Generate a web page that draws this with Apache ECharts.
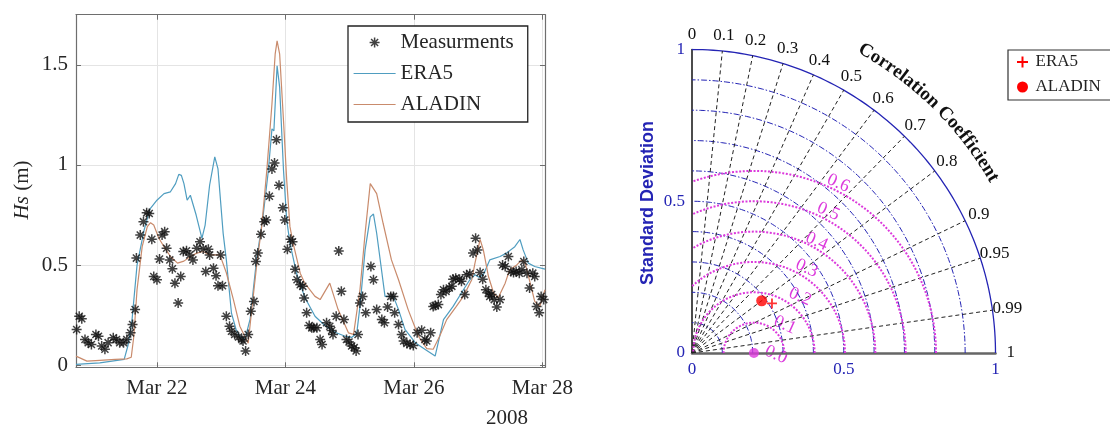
<!DOCTYPE html>
<html>
<head>
<meta charset="utf-8">
<script src="https://cdn.jsdelivr.net/npm/echarts@6/dist/echarts.min.js"></script>
<style>
  html, body { margin: 0; padding: 0; background: #fff; }
  #chart { width: 1110px; height: 430px; }
</style>
</head>
<body>
<div id="chart"></div>
<script>
// ---------------- Data ----------------
// Time is the day of March 2008 (22.5 = Mar 22, 12:00); Hs in metres.
const measTime = [
  20.75,20.79,20.83,20.88,20.93,20.98,21.05,21.09,21.14,21.19,21.24,21.32,21.37,21.42,21.48,21.53,21.59,21.62,21.66,21.68,
  21.74,21.79,21.84,21.88,21.92,21.95,22.00,22.04,22.08,22.12,22.15,22.20,22.24,22.28,22.33,22.37,22.41,22.46,22.51,22.56,
  22.62,22.67,22.72,22.76,22.80,22.82,22.88,22.92,22.95,22.99,23.02,23.08,23.13,23.16,23.21,23.27,23.32,23.34,23.38,23.42,
  23.46,23.51,23.54,23.57,23.62,23.67,23.70,23.75,23.79,23.83,23.86,23.90,23.96,23.99,24.03,24.08,24.11,24.15,24.18,24.23,
  24.27,24.29,24.33,24.37,24.41,24.44,24.49,24.54,24.57,24.64,24.69,24.72,24.74,24.79,24.83,24.87,24.91,24.95,24.99,25.03,
  25.07,25.10,25.13,25.16,25.20,25.25,25.33,25.37,25.42,25.50,25.54,25.59,25.64,25.68,25.70,25.76,25.81,25.84,25.89,25.94,
  25.99,26.05,26.12,26.17,26.20,26.26,26.30,26.33,26.38,26.42,26.46,26.50,26.55,26.59,26.61,26.65,26.71,26.74,26.79,26.82,
  26.87,26.92,26.96,26.99,27.03,27.07,27.12,27.16,27.18,27.21,27.25,27.29,27.34,27.38,27.42,27.47,27.51,27.55,27.59,27.64,
  27.68,27.71,27.76,27.80,27.85,27.88,27.91,27.95,27.98,28.02
];
const measHs = [
  0.179,0.245,0.232,0.129,0.113,0.104,0.154,0.145,0.096,0.080,0.113,0.137,0.129,0.113,0.113,0.129,0.162,0.204,0.278,0.535,
  0.650,0.717,0.761,0.758,0.629,0.443,0.427,0.530,0.650,0.667,0.584,0.526,0.482,0.410,0.311,0.443,0.568,0.572,0.551,0.526,
  0.584,0.617,0.581,0.468,0.579,0.551,0.485,0.447,0.397,0.551,0.397,0.245,0.195,0.170,0.154,0.141,0.129,0.121,0.071,0.154,
  0.270,0.319,0.518,0.560,0.654,0.717,0.725,0.844,0.980,1.010,1.126,0.899,0.786,0.725,0.579,0.629,0.617,0.480,0.427,0.402,
  0.394,0.336,0.262,0.199,0.187,0.187,0.187,0.129,0.104,0.212,0.195,0.174,0.154,0.245,0.571,0.369,0.228,0.129,0.116,0.096,
  0.088,0.071,0.154,0.311,0.344,0.262,0.493,0.427,0.278,0.228,0.212,0.291,0.344,0.344,0.262,0.204,0.154,0.121,0.109,0.104,
  0.099,0.162,0.175,0.129,0.121,0.162,0.294,0.298,0.303,0.353,0.377,0.369,0.386,0.394,0.430,0.435,0.430,0.419,0.353,0.452,
  0.457,0.560,0.634,0.576,0.463,0.430,0.377,0.361,0.344,0.353,0.328,0.291,0.328,0.501,0.493,0.543,0.468,0.463,0.468,0.460,
  0.477,0.518,0.460,0.386,0.460,0.443,0.294,0.262,0.344,0.328
];

const era5Time = [
  20.74,21.11,21.49,21.55,21.61,21.69,21.80,21.89,22.00,22.11,22.21,22.29,22.34,22.38,22.42,22.47,22.52,22.61,22.70,22.75,
  22.82,22.90,22.95,23.03,23.08,23.16,23.23,23.29,23.37,23.45,23.55,23.65,23.73,23.79,23.82,23.87,23.91,23.97,24.02,24.07,
  24.17,24.30,24.46,24.61,24.77,24.93,25.03,25.11,25.16,25.24,25.32,25.37,25.42,25.55,25.68,25.76,25.86,26.02,26.17,26.33,
  26.46,26.61,26.77,26.87,26.95,27.01,27.08,27.18,27.34,27.44,27.57,27.65,27.70,27.78,27.88,28.04
];
const era5Hs = [
  0.005,0.012,0.030,0.100,0.220,0.500,0.675,0.780,0.824,0.857,0.866,0.907,0.953,0.948,0.907,0.824,0.849,0.750,0.634,0.700,
  0.900,1.040,0.980,0.660,0.526,0.260,0.180,0.145,0.130,0.230,0.526,0.740,0.960,1.180,1.170,1.495,1.387,0.973,0.725,0.610,
  0.462,0.340,0.245,0.200,0.165,0.145,0.139,0.160,0.294,0.576,0.741,0.755,0.659,0.344,0.344,0.278,0.179,0.113,0.080,0.046,
  0.228,0.294,0.377,0.427,0.452,0.440,0.452,0.526,0.543,0.560,0.592,0.628,0.576,0.510,0.493,0.480
];

const aladinTime = [
  20.74,20.91,21.11,21.35,21.53,21.60,21.64,21.69,21.77,21.85,21.90,21.95,22.03,22.11,22.21,22.32,22.42,22.52,22.62,22.72,
  22.82,22.98,23.08,23.19,23.29,23.42,23.47,23.55,23.63,23.71,23.79,23.84,23.87,23.91,23.97,24.02,24.07,24.12,24.23,24.30,
  24.46,24.54,24.69,24.82,24.98,25.06,25.16,25.24,25.32,25.34,25.42,25.52,25.65,25.76,25.91,26.07,26.20,26.30,26.40,26.51,
  26.66,26.77,26.90,26.95,27.03,27.08,27.16,27.24,27.31,27.42,27.49,27.60,27.68,27.73,27.81,27.88,27.96,28.04
];
const aladinHs = [
  0.046,0.021,0.025,0.030,0.032,0.040,0.145,0.377,0.592,0.692,0.712,0.700,0.634,0.592,0.543,0.510,0.520,0.543,0.560,0.568,
  0.551,0.551,0.462,0.328,0.195,0.110,0.262,0.493,0.692,0.973,1.304,1.553,1.619,1.553,1.221,0.923,0.692,0.609,0.460,0.410,
  0.344,0.328,0.410,0.278,0.162,0.154,0.377,0.659,0.907,0.912,0.857,0.709,0.526,0.427,0.278,0.145,0.083,0.080,0.145,0.228,
  0.294,0.344,0.427,0.510,0.628,0.576,0.443,0.361,0.336,0.410,0.477,0.501,0.526,0.510,0.410,0.319,0.294,0.377
];

const dateTicks = [22, 24, 26, 28];
const hsTicks = [0, 0.5, 1, 1.5];

// Taylor diagram statistics (normalised standard deviation, correlation)
const taylorModels = ['ERA5', 'ALADIN'];
const taylorStd = [0.310, 0.287];
const taylorCorr = [0.85, 0.80];
const refStd = 0.204;

const corrTicks = [0, 0.1, 0.2, 0.3, 0.4, 0.5, 0.6, 0.7, 0.8, 0.9, 0.95, 0.99, 1];
const stdArcs = [0.1, 0.2, 0.3, 0.4, 0.5, 0.6, 0.7, 0.8, 0.9];
const rmsLevels = [0.0, 0.1, 0.2, 0.3, 0.4, 0.5, 0.6];

// ---------------- Layout & style ----------------
const SERIF = '"Liberation Serif", "Times New Roman", serif';
const SANS = '"Liberation Sans", Arial, sans-serif';
const TXT = '#262626';
const ERA5_C = '#4f9dc0';
const ALADIN_C = '#c98b6c';
const BLUE = '#2424b4';
const MAGENTA = '#dc3adc';
const TAY = { cx: 692, cy: 353, R: 303.5 };
// where each centred-RMS label sits (diagram units)
const rmsLabelPos = [[0.277, -0.006], [0.306, 0.092], [0.356, 0.185], [0.378, 0.279], [0.411, 0.367], [0.449, 0.466], [0.482, 0.559]];

const STAR = 'path://M-1.5,-10L1.5,-10L1.5,10L-1.5,10Z M-10,-1.5L10,-1.5L10,1.5L-10,1.5Z ' +
             'M-6,-8.1L8.1,6L6,8.1L-8.1,-6Z M6,-8.1L8.1,-6L-6,8.1L-8.1,6Z';
const PLUS = 'path://M-1.8,-10L1.8,-10L1.8,10L-1.8,10Z M-10,-1.8L10,-1.8L10,1.8L-10,1.8Z';

// ---------------- Helpers ----------------
const zip = (a, b) => a.map((v, i) => [v, b[i]]);
// (std, correlation) -> diagram x/y
const polar = (r, c) => [r * c, r * Math.sqrt(Math.max(0, 1 - c * c))];
function stdArc(r) {
  const pts = [];
  for (let d = 0; d <= 90; d += 1) {
    const t = d * Math.PI / 180;
    pts.push([r * Math.cos(t), r * Math.sin(t)]);
  }
  return pts;
}
function rmsArc(d) {
  const pts = [];
  const tMax = d > refStd ? Math.acos(-refStd / d) : Math.PI;
  const n = 140;
  for (let i = 0; i <= n; i++) {
    const t = tMax * i / n;
    pts.push([refStd + d * Math.cos(t), d * Math.sin(t)]);
  }
  return pts;
}

const tay = { xAxisIndex: 2, yAxisIndex: 2, symbol: 'none', silent: true, animation: false };

const series = [
  { name: 'Measurments', type: 'scatter', xAxisIndex: 0, yAxisIndex: 0, data: zip(measTime, measHs),
    symbol: STAR, symbolSize: 10, itemStyle: { color: '#111' }, z: 4 },
  { name: 'ERA5', type: 'line', xAxisIndex: 0, yAxisIndex: 0, data: zip(era5Time, era5Hs),
    symbol: 'none', lineStyle: { color: ERA5_C, width: 1.2 }, itemStyle: { color: ERA5_C }, z: 3 },
  { name: 'ALADIN', type: 'line', xAxisIndex: 0, yAxisIndex: 0, data: zip(aladinTime, aladinHs),
    symbol: 'none', lineStyle: { color: ALADIN_C, width: 1.2 }, itemStyle: { color: ALADIN_C }, z: 3 },

  // standard deviation arcs
  ...stdArcs.map(r => Object.assign({ type: 'line', data: stdArc(r),
    lineStyle: { color: BLUE, width: 1, type: [6, 2, 1.5, 2] }, z: 2 }, tay)),
  Object.assign({ type: 'line', data: stdArc(1), lineStyle: { color: BLUE, width: 1.3 }, z: 2 }, tay),
  // correlation rays
  ...corrTicks.filter(c => c > 0 && c < 1).map(c => Object.assign({ type: 'line', data: [[0, 0], polar(1, c)],
    lineStyle: { color: '#222', width: 1, type: [4, 3] }, z: 2 }, tay)),
  // centred RMS difference contours
  ...rmsLevels.filter(d => d > 0).map(d => Object.assign({ type: 'line', data: rmsArc(d),
    lineStyle: { color: MAGENTA, width: 2, type: [2, 1.6] }, z: 3 }, tay)),
  { type: 'scatter', xAxisIndex: 2, yAxisIndex: 2, data: [[refStd, 0]], symbol: 'circle', symbolSize: 10,
    itemStyle: { color: MAGENTA }, z: 5, silent: true },
  { name: taylorModels[1], type: 'scatter', xAxisIndex: 2, yAxisIndex: 2,
    data: [polar(taylorStd[1], taylorCorr[1])], symbol: 'circle', symbolSize: 11,
    itemStyle: { color: '#ff0000' }, z: 6 },
  { name: taylorModels[0], type: 'scatter', xAxisIndex: 2, yAxisIndex: 2,
    data: [polar(taylorStd[0], taylorCorr[0])], symbol: PLUS, symbolSize: 10,
    itemStyle: { color: '#ff0000' }, z: 6 }
];

const boxAxis = (extra) => Object.assign({
  type: 'value', gridIndex: 0,
  axisLine: { show: true, onZero: false, lineStyle: { color: '#6e6e6e', width: 1.2 } },
  axisTick: { show: true, inside: true, length: 5, lineStyle: { color: '#6e6e6e' } },
  axisLabel: { show: false },
  splitLine: { show: false }
}, extra);

const hiddenMarker = { opacity: 0 };

const option = {
  animation: false,
  backgroundColor: '#fff',
  grid: [
    { left: 76, top: 14.7, width: 469, height: 352.6 },
    { left: TAY.cx, top: TAY.cy - TAY.R, width: TAY.R, height: TAY.R }
  ],
  xAxis: [
    boxAxis({ position: 'bottom', min: 20.74, max: 28.04,
      axisTick: { show: true, inside: true, length: 5, customValues: dateTicks, lineStyle: { color: '#6e6e6e' } },
      axisLabel: { show: true, customValues: dateTicks, formatter: v => 'Mar ' + v, margin: 11,
        fontFamily: SERIF, fontSize: 21, color: TXT },
      splitLine: { show: true, lineStyle: { color: '#e4e4e4', width: 1 } } }),
    boxAxis({ position: 'top', min: 20.74, max: 28.04,
      axisTick: { show: true, inside: true, length: 5, customValues: dateTicks, lineStyle: { color: '#6e6e6e' } } }),
    { type: 'value', gridIndex: 1, min: 0, max: 1, interval: 0.5,
      axisLine: { show: true, onZero: false, lineStyle: { color: '#666', width: 2.5 } },
      axisTick: { show: false },
      axisLabel: { color: BLUE, fontFamily: SERIF, fontSize: 17, margin: 8 },
      splitLine: { show: false } }
  ],
  yAxis: [
    boxAxis({ position: 'left', min: -0.01, max: 1.75,
      axisTick: { show: true, inside: true, length: 5, customValues: hsTicks, lineStyle: { color: '#6e6e6e' } },
      axisLabel: { show: true, customValues: hsTicks, margin: 8, fontFamily: SERIF, fontSize: 21, color: TXT },
      splitLine: { show: true, lineStyle: { color: '#e4e4e4', width: 1 } } }),
    boxAxis({ position: 'right', min: -0.01, max: 1.75,
      axisTick: { show: true, inside: true, length: 5, customValues: hsTicks, lineStyle: { color: '#6e6e6e' } } }),
    { type: 'value', gridIndex: 1, min: 0, max: 1, interval: 0.5,
      axisLine: { show: true, onZero: false, lineStyle: { color: '#111', width: 1.5 } },
      axisTick: { show: false },
      axisLabel: { color: BLUE, fontFamily: SERIF, fontSize: 17, margin: 7 },
      splitLine: { show: false } }
  ],
  legend: [
    { orient: 'vertical', left: 348, top: 26, selectedMode: false,
      data: [
        { name: 'Measurments', icon: STAR, itemStyle: { color: '#111', borderWidth: 0 } },
        { name: 'ERA5', itemStyle: hiddenMarker },
        { name: 'ALADIN', itemStyle: hiddenMarker }
      ],
      itemWidth: 42, itemHeight: 10, itemGap: 10, padding: [6, 14, 7, 5],
      borderColor: '#222', borderWidth: 1.3, backgroundColor: '#fff',
      lineStyle: { width: 1.2 },
      textStyle: { fontFamily: SERIF, fontSize: 21, color: TXT, lineHeight: 20 } },
    { orient: 'vertical', left: 1008, top: 50, selectedMode: false,
      data: [
        { name: 'ERA5', icon: PLUS, itemStyle: { color: '#ff0000', borderWidth: 0, borderColor: '#ff0000' } },
        { name: 'ALADIN', icon: 'circle', itemStyle: { color: '#ff0000', borderWidth: 0, borderColor: '#ff0000' } }
      ],
      itemWidth: 16, itemHeight: 11, itemGap: 7, padding: [3, 40, 4, 9],
      borderColor: '#333', borderWidth: 1.2, backgroundColor: '#fff',
      textStyle: { fontFamily: SERIF, fontSize: 17, color: '#222', lineHeight: 18 } }
  ],
  series
};

const chart = echarts.init(document.getElementById('chart'));
chart.setOption(option);

// ---------------- Text annotations ----------------
const toPx = (x, y) => chart.convertToPixel({ gridIndex: 1 }, [x, y]);
const graphics = [];

// axis titles
graphics.push({ type: 'text', x: 22, y: 190, rotation: Math.PI / 2,
  style: { text: '{i|Hs} (m)', fontFamily: SERIF, fontSize: 21, fill: TXT, align: 'center', verticalAlign: 'middle',
    rich: { i: { fontStyle: 'italic', fontFamily: SERIF, fontSize: 21, fill: TXT } } } });
graphics.push({ type: 'text', x: 507, y: 418,
  style: { text: '2008', fontFamily: SERIF, fontSize: 21, fill: TXT, align: 'center', verticalAlign: 'middle' } });
graphics.push({ type: 'text', x: 648, y: 203, rotation: Math.PI / 2,
  style: { text: 'Standard Deviation', fontFamily: SANS, fontWeight: 'bold', fontSize: 18, fill: BLUE,
    align: 'center', verticalAlign: 'middle' } });

// correlation tick labels just outside the unit arc
corrTicks.forEach(c => {
  const [x, y] = polar(1.05, c);
  const p = toPx(x, y);
  graphics.push({ type: 'text', x: p[0], y: p[1],
    style: { text: String(c), fontFamily: SERIF, fontSize: 17, fill: '#111', align: 'center', verticalAlign: 'middle' } });
});

// curved "Correlation Coefficient" title
(function () {
  const title = 'Correlation Coefficient';
  const font = 'bold 19px ' + SERIF;
  const ctx = document.createElement('canvas').getContext('2d');
  ctx.font = font;
  const widths = [...title].map(ch => ctx.measureText(ch).width);
  const rc = 1.147 * TAY.R;
  const a0 = 60.1 * Math.PI / 180, a1 = 30.2 * Math.PI / 180;
  const centers = [];
  let acc = 0;
  widths.forEach(w => { centers.push(acc + w / 2); acc += w; });
  const span = centers[centers.length - 1] - centers[0];
  [...title].forEach((ch, i) => {
    const t = a0 - (a0 - a1) * (centers[i] - centers[0]) / span;
    graphics.push({ type: 'text', x: TAY.cx + rc * Math.cos(t), y: TAY.cy - rc * Math.sin(t), rotation: t - Math.PI / 2,
      style: { text: ch, font: font, fill: '#111', align: 'center', verticalAlign: 'middle' } });
  });
})();

// centred RMS difference labels
rmsLevels.forEach((d, i) => {
  const p = toPx(rmsLabelPos[i][0], rmsLabelPos[i][1]);
  graphics.push({ type: 'text', x: p[0], y: p[1], rotation: -0.42,
    style: { text: d.toFixed(1), fontFamily: SERIF, fontSize: 18, fill: MAGENTA, align: 'center', verticalAlign: 'middle' } });
});

chart.setOption({ graphic: graphics });
</script>
</body>
</html>
